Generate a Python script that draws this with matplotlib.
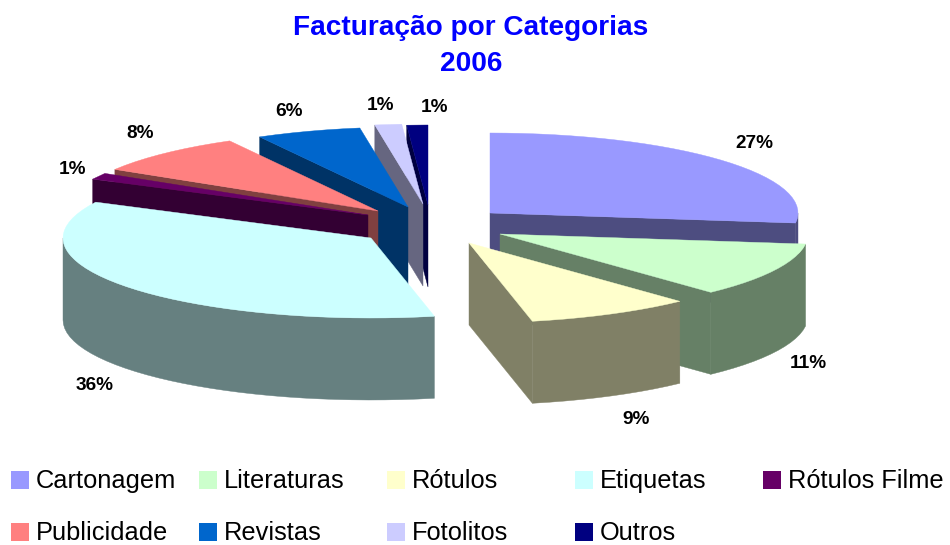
import numpy as np
import matplotlib
matplotlib.use("Agg")
import matplotlib.pyplot as plt
from matplotlib.patches import Polygon, Rectangle

plt.rcParams['font.family'] = ['Liberation Sans', 'DejaVu Sans']

# data
categories = ["Cartonagem", "Literaturas", "Rótulos", "Etiquetas", "Rótulos Filme",
              "Publicidade", "Revistas", "Fotolitos", "Outros"]
values = [27.0, 11.0, 8.7, 35.7, 1.3, 8.3, 5.5, 1.4, 1.1]

# style
colors = ["#9999FF", "#CCFFCC", "#FFFFCC", "#CCFFFF", "#660066",
          "#FF8080", "#0066CC", "#CCCCFF", "#000080"]
walls = ["#4D4D80", "#668066", "#808066", "#668080", "#330033",
         "#804040", "#003366", "#666680", "#000040"]
apex_x = [490, 500, 469, 371, 368, 378, 408, 423, 428]   # exploded centre of each slice, px
apex_y = [213, 234, 243, 238, 215, 211, 207, 204, 205]
label_x = [754, 808, 636, 95, 72, 140, 289, 381, 434]
label_y = [143, 364, 419, 386, 169, 134, 112, 106, 108]
draw_order = [8, 7, 6, 5, 4, 3, 0, 1, 2]  # back to front
RX, RY, DEPTH = 308, 80, 82

fig = plt.figure(figsize=(9.5, 5.45), dpi=100)
ax = fig.add_axes([0, 0, 1, 1])
ax.set_xlim(0, 950)
ax.set_ylim(545, 0)
ax.axis('off')

def rim(cx, cy, a0, a1):
    # outer edge, angles clockwise from 12 o'clock
    n = max(2, int((a1 - a0) / 3) + 1)
    t = np.radians(np.linspace(a0, a1, n))
    return cx + RX * np.sin(t), cy - RY * np.cos(t)

def face(xs, ys, color, z):
    ax.add_patch(Polygon(np.column_stack([xs, ys]), closed=True, facecolor=color,
                         edgecolor=color, linewidth=0.3, zorder=z))

ends = np.cumsum(values) / sum(values) * 360
starts = np.concatenate([[0], ends[:-1]])

for z, i in enumerate(draw_order):
    a0, a1 = starts[i], ends[i]
    cx, cy = apex_x[i], apex_y[i]
    z = z * 10 + 1
    # radial side faces that look at the viewer
    for a in (a0, a1):
        s = np.sin(np.radians(a))
        if (a == a0 and s < 0) or (a == a1 and s > 0):
            x, y = rim(cx, cy, a, a)
            face([cx, x[0], x[0], cx], [cy, y[0], y[0] + DEPTH, cy + DEPTH], walls[i], z)
    # outer wall, only the front half of the ellipse
    w0, w1 = max(a0, 90), min(a1, 270)
    if w1 > w0:
        x, y = rim(cx, cy, w0, w1)
        face(np.r_[x, x[::-1]], np.r_[y, y[::-1] + DEPTH], walls[i], z + 1)
    # top
    x, y = rim(cx, cy, a0, a1)
    face(np.r_[cx, x], np.r_[cy, y], colors[i], z + 2)

for i, v in enumerate(values):
    ax.text(label_x[i], label_y[i], f"{v:.0f}%", fontsize=13.7, fontweight='bold',
            ha='center', va='center', zorder=200)

ax.text(471, 28, "Facturação por Categorias", color="#0000FF", fontsize=20.2,
        fontweight='bold', ha='center', va='center')
ax.text(471, 64, "2006", color="#0000FF", fontsize=20.2,
        fontweight='bold', ha='center', va='center')

# legend
for i, name in enumerate(categories):
    lx = 11 + 188 * (i % 5)
    ly = 480 if i < 5 else 532
    ax.add_patch(Rectangle((lx, ly - 9), 18, 18, facecolor=colors[i], edgecolor='none'))
    ax.text(lx + 25, ly + 1, name, fontsize=18.3, ha='left', va='center')

fig.savefig("out.png", dpi=100)
